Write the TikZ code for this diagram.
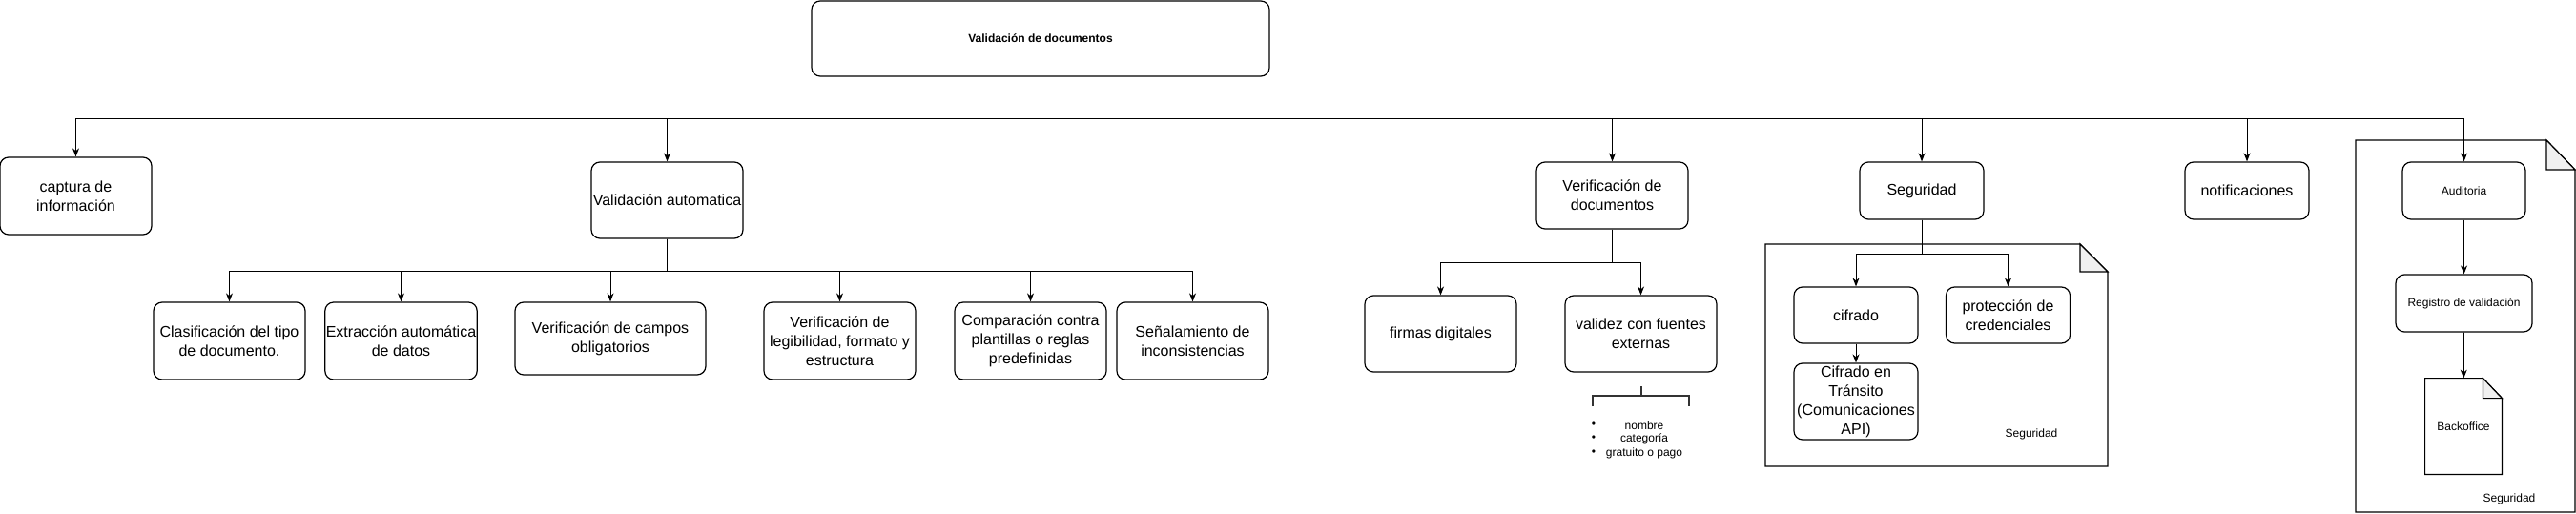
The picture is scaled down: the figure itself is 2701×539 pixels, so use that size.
\documentclass[tikz,border=0pt]{standalone}
\usepackage{fontspec}
\setmainfont{Liberation Sans}
\usetikzlibrary{arrows.meta,calc}

\begin{document}
\begin{tikzpicture}[x=0.5pt,y=-0.5pt,
    every node/.style={font=\fontsize{8}{10}\selectfont},
    caja/.style={draw,line width=0.6pt,rounded corners=4.5pt,align=center,inner sep=0.5pt,minimum width=79.5pt,minimum height=40pt},
    chica/.style={font=\fontsize{6}{7.5}\selectfont},
    flecha/.style={line width=0.5pt,-{Stealth[length=4.5pt,width=3.5pt]}},
    hoja/.style={draw,line width=0.6pt},
    pliegue/.style={draw,line width=0.6pt,fill=black!6}]
    \useasboundingbox (0,0) rectangle (2701,539);
    \begin{scope}
        \draw[hoja] (1851,256)--(2181,256)--(2210,285)--(2210,489)--(1851,489)--cycle;
        \draw[pliegue] (2181,256)--(2181,285)--(2210,285)--cycle;
        \draw[hoja] (2470,147)--(2670,147)--(2700,178)--(2700,537)--(2470,537)--cycle;
        \draw[pliegue] (2670,147)--(2670,178)--(2700,178)--cycle;
    \end{scope}
    \node[caja,font=\bfseries\fontsize{6}{7.5}\selectfont,minimum width=240pt,minimum height=39.5pt] (valdoc) at (1091,40.5) {Validación de documentos};
    \node[caja,minimum height=40.5pt] (captura) at (79.5,205.5) {captura de\\información};
    \node[caja] (valauto) at (699.5,210) {Validación automatica};
    \node[caja,minimum height=40.5pt] (clasif) at (240.5,357.5) {Clasificación del tipo\\de documento.};
    \node[caja,minimum height=40.5pt] (extrac) at (420.5,357.5) {Extracción automática\\de datos};
    \node[caja,minimum width=100pt,minimum height=38pt] (campos) at (640,355) {Verificación de campos\\obligatorios};
    \node[caja,minimum height=40.5pt] (legib) at (880.5,357.5) {Verificación de\\legibilidad, formato y\\estructura};
    \node[caja,minimum height=40.5pt] (compar) at (1080.5,357.5) {Comparación contra\\plantillas o reglas\\predefinidas};
    \node[caja,minimum height=40.5pt] (senal) at (1250.5,357.5) {Señalamiento de\\inconsistencias};
    \node[caja,minimum height=35pt] (verdoc) at (1690.5,205) {Verificación de\\documentos};
    \node[caja,minimum width=65pt,minimum height=30pt] (seg) at (2015,200) {Seguridad};
    \node[caja,minimum width=65pt,minimum height=30pt] (notif) at (2356,200) {notificaciones};
    \node[caja,chica,minimum width=64.5pt,minimum height=30pt] (audit) at (2583.5,200) {Auditoria};
    \node[caja] (firmas) at (1510.5,350) {firmas digitales};
    \node[caja] (validez) at (1720.5,350) {validez con fuentes\\externas};
    \node[caja,minimum width=65pt,minimum height=29.5pt] (cifrado) at (1946,330.5) {cifrado};
    \node[caja,minimum width=65pt,minimum height=29.5pt] (protec) at (2105.5,330.5) {protección de\\credenciales};
    \node[caja,minimum width=65pt] (transito) at (1946,421) {Cifrado en\\Tránsito\\(Comunicaciones\\API)};
    \node[caja,chica,minimum width=71.5pt,minimum height=30pt] (registro) at (2583.5,318) {Registro de validación};
    \node[chica,minimum width=40pt,minimum height=50pt] (backoffice) at (2583,447) {Backoffice};
    \draw[hoja] (backoffice.north west)--($(backoffice.north east)+(-20,0)$)--($(backoffice.north east)+(0,21)$)--(backoffice.south east)--(backoffice.south west)--cycle;
    \draw[pliegue] ($(backoffice.north east)+(-20,0)$)--($(backoffice.north east)+(-20,21)$)--($(backoffice.north east)+(0,21)$)--cycle;
    \node[chica] (etiqseg) at (2130,455) {Seguridad};
    \node[chica] (etiqaud) at (2631,523) {Seguridad};
    \coordinate (llave) at (1720.5,415);
    \draw[line width=1pt,black!80] (llave)--++(0,-10);
    \draw[line width=1pt,black!80] (1670,426)--(1670,415)--(1771,415)--(1771,426);
    \foreach \t/\y [count=\i] in {nombre/446,categoría/460,gratuito o pago/475}{
        \node[chica] (item\i) at (1724,\y) {\t};
        \node[chica] (punto\i) at (1671,\y) {\textbullet};
    }
    \foreach \n in {captura,valauto,verdoc,seg,notif,audit}
        \draw[flecha] (valdoc.south)--++(0,44)-|(\n.north);
    \foreach \n in {clasif,extrac,campos,legib,compar,senal}
        \draw[flecha] (valauto.south)--++(0,34)-|(\n.north);
    \foreach \n in {firmas,validez}
        \draw[flecha] (verdoc.south)--++(0,35)-|(\n.north);
    \foreach \n in {cifrado,protec}
        \draw[flecha] (seg.south)--++(0,36)-|(\n.north);
    \draw[flecha] (cifrado)--(transito);
    \draw[flecha] (audit)--(registro);
    \draw[flecha] (registro)--(backoffice);
\end{tikzpicture}
\end{document}
